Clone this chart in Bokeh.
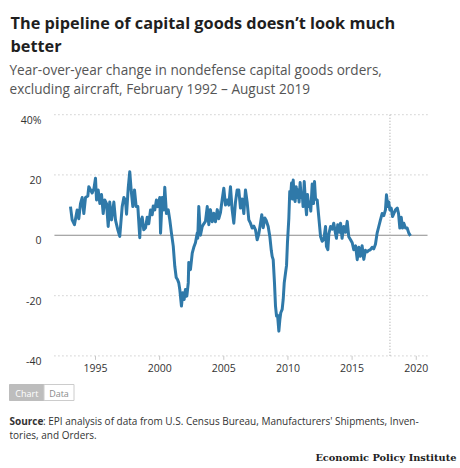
from bokeh.plotting import figure
from bokeh.models import Range1d, Label
from bokeh.core.properties import value
from bokeh.embed import file_html
from bokeh.resources import INLINE

# ---- data (year-over-year % change) ----
years = [1993.05, 1993.18, 1993.36, 1993.57, 1993.70, 1993.83, 1993.96, 1994.09, 1994.22, 1994.40,
         1994.48, 1994.74, 1994.88, 1995.00, 1995.08, 1995.21, 1995.34, 1995.47, 1995.60, 1995.72,
         1995.86, 1995.99, 1996.11, 1996.25, 1996.43, 1996.56, 1996.74, 1996.89, 1997.08, 1997.21,
         1997.34, 1997.42, 1997.55, 1997.67, 1997.78, 1997.91, 1998.04, 1998.17, 1998.30, 1998.45,
         1998.51, 1998.64, 1998.76, 1998.90, 1999.03, 1999.15, 1999.29, 1999.42, 1999.50, 1999.62,
         1999.75, 1999.86, 2000.01, 2000.07, 2000.20, 2000.32, 2000.40, 2000.53, 2000.67, 2000.79,
         2000.92, 2001.06, 2001.18, 2001.29, 2001.39, 2001.49, 2001.57, 2001.70, 2001.80, 2001.91,
         2002.01, 2002.12, 2002.23, 2002.27, 2002.40, 2002.54, 2002.66, 2002.79, 2002.93, 2002.97,
         2003.05, 2003.18, 2003.32, 2003.44, 2003.57, 2003.71, 2003.83, 2003.96, 2004.10, 2004.22,
         2004.35, 2004.49, 2004.61, 2004.74, 2004.87, 2005.00, 2005.13, 2005.26, 2005.39, 2005.52,
         2005.65, 2005.78, 2005.91, 2006.04, 2006.17, 2006.30, 2006.43, 2006.56, 2006.69, 2006.82,
         2006.95, 2007.08, 2007.21, 2007.34, 2007.47, 2007.60, 2007.73, 2007.86, 2007.96, 2008.07,
         2008.20, 2008.30, 2008.46, 2008.59, 2008.70, 2008.77, 2008.85, 2008.95, 2009.03, 2009.11,
         2009.19, 2009.29, 2009.37, 2009.44, 2009.55, 2009.63, 2009.71, 2009.81, 2009.89, 2009.96,
         2010.07, 2010.14, 2010.22, 2010.28, 2010.35, 2010.41, 2010.48, 2010.56, 2010.64, 2010.72,
         2010.79, 2010.87, 2010.95, 2011.03, 2011.11, 2011.18, 2011.27, 2011.37, 2011.45, 2011.52,
         2011.63, 2011.70, 2011.78, 2011.89, 2011.99, 2012.07, 2012.15, 2012.28, 2012.40, 2012.54,
         2012.67, 2012.79, 2012.93, 2013.00, 2013.11, 2013.19, 2013.32, 2013.45, 2013.57, 2013.71,
         2013.78, 2013.88, 2014.02, 2014.10, 2014.22, 2014.35, 2014.49, 2014.62, 2014.74, 2014.88,
         2015.01, 2015.13, 2015.27, 2015.40, 2015.52, 2015.65, 2015.78, 2015.91, 2016.04, 2016.17,
         2016.30, 2016.43, 2016.56, 2016.69, 2016.82, 2016.95, 2017.08, 2017.21, 2017.34, 2017.47,
         2017.60, 2017.68, 2017.78, 2017.86, 2017.94, 2018.05, 2018.15, 2018.25, 2018.38, 2018.52,
         2018.62, 2018.72, 2018.83, 2018.93, 2019.03, 2019.16, 2019.29, 2019.42, 2019.55]
yoy_change = [9.5, 5.1, 3.5, 8.4, 5.5, 10.5, 12.5, 7.2, 12.5, 13.0,
              16.1, 14.0, 15.5, 18.9, 11.7, 15.0, 10.5, 13.5, 7.2, 11.7,
              10.5, 2.9, 11.0, 5.1, 11.0, 5.0, 1.8, -0.4, 9.5, 12.5,
              11.5, 7.0, 15.6, 21.1, 15.0, 9.5, 15.0, 9.5, 9.5, -0.8,
              4.5, 6.0, 1.8, 2.5, 6.0, 3.8, 8.4, 6.8, 9.7, 8.4,
              11.7, 9.5, 12.5, 0.7, 12.5, 8.4, 15.9, 7.2, 8.4, 5.1,
              0.7, -3.6, -10.3, -14.0, -14.7, -15.8, -18.0, -23.5, -19.1, -21.3,
              -18.0, -20.2, -15.8, -9.0, -11.4, -5.9, -4.0, -2.5, 0.7, -1.0,
              9.5, 0.0, 2.9, 3.8, 4.6, 9.5, 3.5, 8.5, 4.5, 7.3,
              4.5, 8.5, 5.5, 7.5, 11.7, 15.6, 10.0, 11.7, 10.0, 16.1,
              8.5, 4.0, 11.0, 15.0, 15.0, 9.0, 12.0, 7.2, 15.0, 11.0,
              5.1, 4.0, 2.4, 3.0, 1.8, -1.5, 0.5, 4.0, 6.8, 2.5,
              5.7, 5.0, 2.9, -0.5, -5.0, -7.0, -8.1, -15.8, -23.5, -26.8,
              -26.5, -31.8, -28.0, -25.7, -24.6, -21.3, -15.8, -12.5, -10.0, -2.6,
              5.7, 14.5, 13.5, 17.3, 12.0, 18.3, 13.0, 11.2, 16.1, 12.5,
              15.0, 11.0, 17.5, 12.5, 14.0, 9.5, 17.8, 10.5, 6.8, 13.5,
              9.5, 11.0, 8.0, 17.0, 10.5, 17.8, 12.0, 11.7, 6.2, -0.4,
              -2.0, -1.5, 2.9, -3.7, -4.8, 0.5, 2.9, 2.0, 4.0, 0.5,
              -1.0, 3.5, 1.0, 4.0, -1.0, 2.9, 1.0, 4.6, -0.5, -1.5,
              -2.5, -4.8, -3.5, -8.1, -4.0, -7.0, -3.5, -8.0, -5.0, -5.5,
              -5.0, -4.8, -4.0, -4.5, -3.0, 0.7, 2.9, 5.1, 7.2, 6.5,
              8.4, 13.4, 9.5, 11.0, 8.4, 9.0, 6.2, 7.2, 8.4, 9.0,
              7.2, 2.4, 6.0, 2.4, 4.0, 2.4, 2.4, 0.7, -0.2]
y_ticks = [-40, -20, 0, 20, 40]
y_tick_labels = ["-40", "-20", "0", "20", "40%"]
grid_ticks = [-40, -20, 20, 40]
x_ticks = [1995, 2000, 2005, 2010, 2015, 2020]
x_tick_labels = ["1995", "2000", "2005", "2010", "2015", "2020"]
marker_year = 2017.95

TITLE_1 = "The pipeline of capital goods doesn\u2019t look much"
TITLE_2 = "better"
SUB_1 = "Year-over-year change in nondefense capital goods orders,"
SUB_2 = "excluding aircraft, February 1992 \u2013 August 2019"
SRC_1 = ": EPI analysis of data from U.S. Census Bureau, Manufacturers' Shipments, Inven-"
SRC_2 = "tories, and Orders."

# ---- page geometry (canvas pixels) ----
W, H = 460, 468
PX_PER_YEAR = 12.83          # horizontal scale of the chart
X_REF_YEAR, X_REF_PX = 1995, 95
PX_PER_PCT = 3.015           # vertical scale of the chart
ZERO_PX = 234.75
AXIS_X0, AXIS_X1 = 1991.80, 2020.88     # extent of the plotting area (years)
AXIS_Y0, AXIS_Y1 = -40, 40

FONT = "Open Sans"
BLUE = "#2f79a9"

p = figure(width=W, height=H, output_backend="svg", toolbar_location=None,
           x_range=Range1d(0, W), y_range=Range1d(H, 0),
           x_axis_type=None, y_axis_type=None, min_border=0)
p.grid.visible = False
p.outline_line_color = None
p.background_fill_color = "white"
p.border_fill_color = "white"

# chart scales mapped onto the same canvas
p.extra_x_ranges = {"yr": Range1d(X_REF_YEAR - X_REF_PX / PX_PER_YEAR,
                                  X_REF_YEAR + (W - X_REF_PX) / PX_PER_YEAR)}
p.extra_y_ranges = {"pct": Range1d((ZERO_PX - H) / PX_PER_PCT, ZERO_PX / PX_PER_PCT)}
C = dict(x_range_name="yr", y_range_name="pct")

# grid lines
n = len(grid_ticks)
p.segment(x0=[AXIS_X0] * n, x1=[AXIS_X1] * n, y0=grid_ticks, y1=grid_ticks,
          line_color="#c4c4c4", line_width=1.2, line_dash="1 3", **C)
p.segment(x0=[AXIS_X0], x1=[AXIS_X1], y0=[0], y1=[0], line_color="#8c8c8c", line_width=1, **C)
p.segment(x0=[marker_year], x1=[marker_year], y0=[AXIS_Y0], y1=[AXIS_Y1],
          line_color="#b0b0b0", line_width=1.2, line_dash="1 2", **C)

# x-axis ticks and labels
m = len(x_ticks)
TICK = 4 / PX_PER_PCT
p.segment(x0=x_ticks, x1=x_ticks, y0=[AXIS_Y0] * m, y1=[AXIS_Y0 - TICK] * m,
          line_color="#c8c8c8", line_width=1, **C)
p.text(x=x_ticks, y=[AXIS_Y0] * m, text=x_tick_labels, y_offset=12,
       text_align="center", text_baseline="middle", text_font=value(FONT),
       text_font_size="10.5px", text_color="#333333", **C)
# y-axis labels
k = len(y_ticks)
p.text(x=[AXIS_X0] * k, y=y_ticks, text=y_tick_labels, x_offset=-13, y_offset=5,
       text_align="right", text_baseline="middle", text_font=value(FONT),
       text_font_size="10.5px", text_color="#333333", **C)

# series
p.line(years, yoy_change, line_color=BLUE, line_width=3, line_join="round", **C)


def lab(x, y, text, size, color="#222222", style="normal", font=FONT,
        align="left", baseline="alphabetic"):
    p.add_layout(Label(x=x, y=y, text=text, text_font=font, text_font_size=size,
                       text_color=color, text_font_style=style, text_align=align,
                       text_baseline=baseline))


# header
lab(10, 22.7, TITLE_1, "16.3px", color="#1f1f1f", style="bold")
lab(10, 45, TITLE_2, "16.3px", color="#1f1f1f", style="bold")
lab(9, 69, SUB_1, "13.6px", color="#555555")
lab(9, 87.7, SUB_2, "13.6px", color="#555555")

# Chart / Data switch
p.quad(left=[9, 43.5], right=[43.5, 73.5], top=[384, 384], bottom=[400, 400],
       fill_color=["#bdbdbd", "white"], line_color=["#bdbdbd", "#cccccc"], line_width=1)
lab(26.3, 392.5, "Chart", "9px", color="white", align="center", baseline="middle")
lab(58.5, 392.5, "Data", "9px", color="#8a8a8a", align="center", baseline="middle")

# footer
lab(9, 420.7, "Source", "10px", color="#333333", style="bold")
lab(42.5, 420.7, SRC_1, "10px", color="#333333")
lab(9, 434.3, SRC_2, "10px", color="#333333")
lab(456, 457.3, "Economic Policy Institute", "9.8px", color="#222222", style="bold",
    font="DejaVu Serif", align="right")

open("out.html", "w").write(file_html(p, INLINE))
